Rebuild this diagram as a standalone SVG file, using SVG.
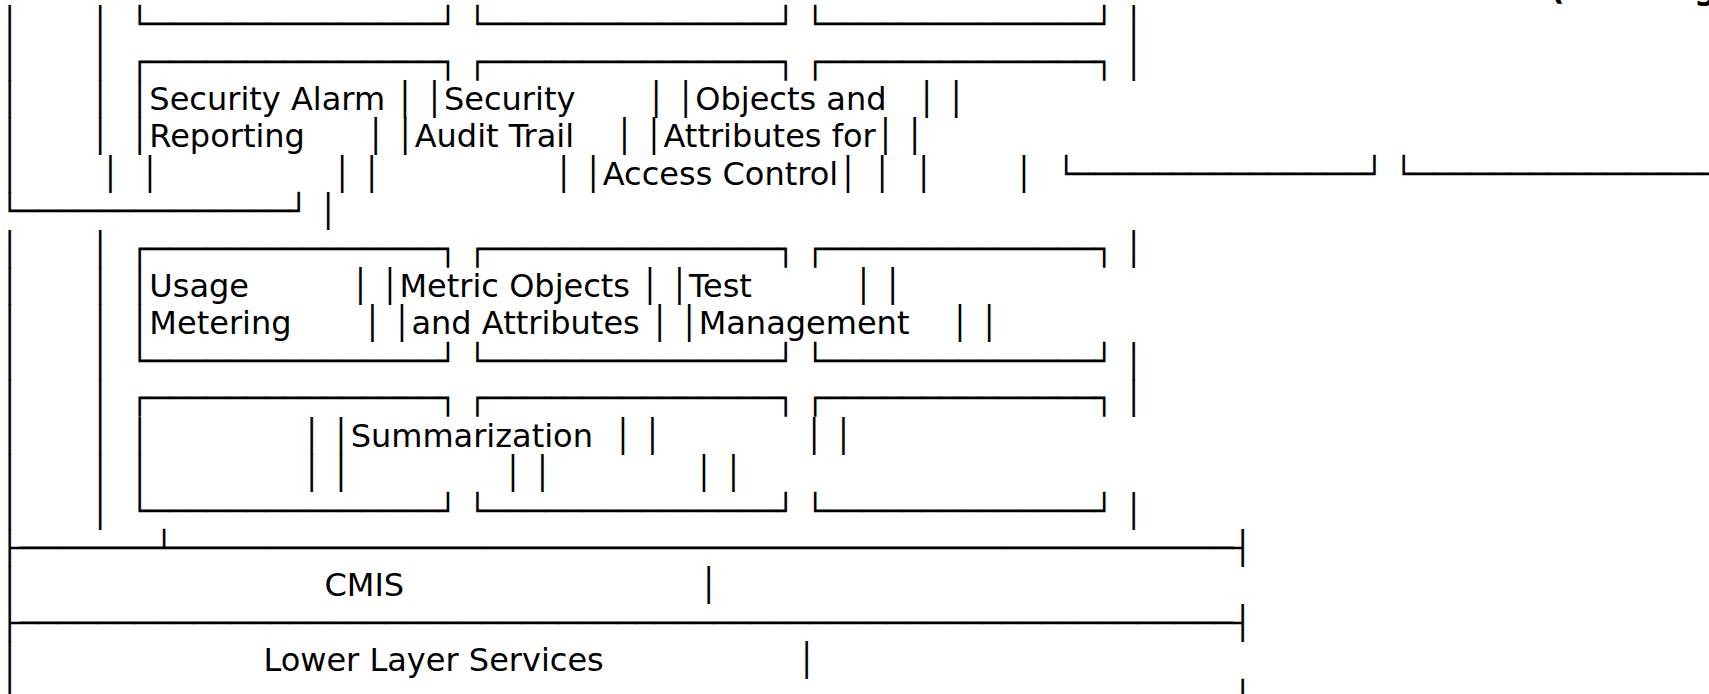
<svg xmlns="http://www.w3.org/2000/svg" width="1709" height="694" viewBox="0 0 1709 694">
<style>
.t { font-family: "DejaVu Sans", "Liberation Sans", sans-serif; font-size: 32px; white-space: pre; fill: #000; }
.b { font-weight: bold; }
</style>
<rect width="1709" height="694" fill="#fff"/>
<g id="heading-fragment">
<text class="t b" x="1550" y="-1">(</text>
<text class="t b" x="1694" y="-1">g</text>
</g>
<g id="upper-function-boxes">
<text class="t" xml:space="preserve" x="0" y="35.10">│       │  └───────────────┘ └───────────────┘ └──────────────┘ │</text>
<text class="t" xml:space="preserve" x="0" y="72.52">│       │  ┌───────────────┐ ┌───────────────┐ ┌──────────────┐ │</text>
<text class="t" xml:space="preserve" x="0" y="109.94">│       │  │Security Alarm │ │Security       │ │Objects and   │ │</text>
<text class="t" xml:space="preserve" x="0" y="147.36">│       │  │Reporting      │ │Audit Trail    │ │Attributes for│ │</text>
<text class="t" xml:space="preserve" x="0" y="184.78">│        │  │                 │ │                 │ │Access Control│<tspan x="872.6">│</tspan><tspan x="914.0">│</tspan><tspan x="1014.2">│</tspan><tspan x="1056.4">└───────────────┘ └─────────────────</tspan></text>
<text class="t" xml:space="preserve" x="0" y="222.20">└──────────────┘ │</text>
</g>
<g id="function-boxes">
<text class="t" xml:space="preserve" x="0" y="259.62">│       │  ┌───────────────┐ ┌───────────────┐ ┌──────────────┐ │</text>
<text class="t" xml:space="preserve" x="0" y="297.04">│       │  │Usage          │ │Metric Objects │ │Test          │ │</text>
<text class="t" xml:space="preserve" x="0" y="334.46">│       │  │Metering       │ │and Attributes │ │Management    │ │</text>
<text class="t" xml:space="preserve" x="0" y="371.88">│       │  └───────────────┘ └───────────────┘ └──────────────┘ │</text>
<text class="t" xml:space="preserve" x="0" y="409.30">│       │  ┌───────────────┐ ┌───────────────┐ ┌──────────────┐ │</text>
<text class="t" xml:space="preserve" x="0" y="446.72">│       │  │               │ │Summarization  │ │              │ │</text>
<text class="t" xml:space="preserve" x="0" y="484.14">│       │  │               │ │               │ │              │ │</text>
<text class="t" xml:space="preserve" x="0" y="521.56">│       │  └───────────────┘ └───────────────┘ └──────────────┘ │</text>
</g>
<g id="cmis">
<text class="t" xml:space="preserve" x="0" y="558.98">├───────┴───────────────────────────────────────────────────────┤</text>
<text class="t" xml:space="preserve" x="0" y="596.40">│                              CMIS                             │</text>
</g>
<g id="lower-layer-services">
<text class="t" xml:space="preserve" x="0" y="633.82">├───────────────────────────────────────────────────────────────┤</text>
<text class="t" xml:space="preserve" x="0" y="671.24">│                        Lower Layer Services                   │</text>
<text class="t" xml:space="preserve" x="0" y="708.66">└───────────────────────────────────────────────────────────────┘</text>
</g>
</svg>
